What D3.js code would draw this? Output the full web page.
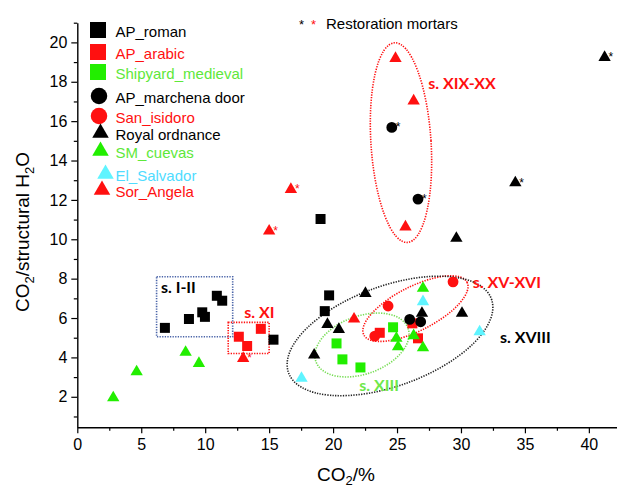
<!DOCTYPE html>
<html>
<head>
<meta charset="utf-8">
<script src="https://cdn.jsdelivr.net/npm/d3@7"></script>
<style>
 body { margin: 0; background: #fff; }
 svg text { font-family: "Liberation Sans", Arial, Helvetica, sans-serif; }
</style>
</head>
<body>
<div id="chart"></div>
<script>
/* CO2 / structural H2O against CO2 % for historic mortars.
 * Every point : [CO2 %, CO2/structural H2O, restoration mortar (1) or not (0)] */

var apRoman    = [[6.85,5.50,0],[8.73,5.95,0],[9.77,6.29,0],[9.98,6.06,0],[10.91,7.13,0],[11.33,6.88,0],
                  [15.34,4.90,0],[19.02,11.03,0],[19.69,7.15,0],[19.35,6.35,0]];
var apArabic   = [[12.63,5.05,0],[13.28,4.58,0],[14.35,5.45,0],[23.65,5.25,0],[26.20,5.73,0],[26.64,4.97,0]];
var shipyard   = [[24.69,5.53,0],[20.27,4.71,0],[20.73,3.90,0],[22.14,3.49,0]];
var marchena   = [[24.59,15.68,1],[26.64,12.04,1],[25.99,5.93,0],[26.85,5.81,0]];
var sanIsidoro = [[29.38,7.84,0],[24.30,6.61,0],[23.26,5.08,0]];
var royal      = [[41.23,19.24,1],[34.25,12.87,1],[29.64,10.05,0],[22.53,7.25,0],[26.95,6.24,0],
                  [30.08,6.24,0],[19.56,5.68,0],[20.45,5.42,0],[18.52,4.12,0]];
var smCuevas   = [[2.81,1.95,0],[4.64,3.27,0],[8.47,4.26,0],[9.51,3.70,0],[27.03,7.51,0],
                  [24.95,4.97,0],[25.08,4.54,0],[26.30,5.10,0],[27.03,4.49,0]];
var elSalvador = [[17.53,2.94,0],[27.03,6.83,0],[31.46,5.30,0]];
var sorAngela  = [[24.88,19.19,0],[26.30,17.03,0],[16.70,12.53,1],[15.00,10.42,1],[12.97,3.95,1],
                  [25.66,10.63,0],[21.64,5.95,0]];

var seriesNames  = ['AP_roman','AP_arabic','Shipyard_medieval','AP_marchena door','San_isidoro',
                    'Royal ordnance','SM_cuevas','El_Salvador','Sor_Angela'];
var seriesValues = [apRoman, apArabic, shipyard, marchena, sanIsidoro, royal, smCuevas, elSalvador, sorAngela];

// tick labels
var xTicks = [0,5,10,15,20,25,30,35,40];
var yTicks = [2,4,6,8,10,12,14,16,18,20];

// grouping annotations (centre in data units, half axes in x-units / y-units, angle in degrees)
var ellipseLabels = ['s. XIX-XX','s. XV-XVI','s. XVIII','s. XIII'];
var ellipseShapes = [[25.31,14.91,2.35,5.08,-3.7],[26.44,6.48,4.53,1.12,-27],
                     [24.45,5.09,8.44,2.54,-20],[22.26,4.63,3.83,1.47,-20]];
var boxLabels  = ['s. I-II','s. XI'];
var boxShapes  = [[6.2,5.05,12.15,8.1],[11.8,4.2,15.0,5.78]];
// where each group name is written [x, y] (data units)
var labelPos = {'s. XIX-XX':[27.44,17.63],'s. XV-XVI':[30.92,7.51],'s. XVIII':[33.05,4.72],
                's. XIII':[22.05,2.31],'s. XI':[13.06,5.99],'s. I-II':[6.54,7.27]};

// ---- graphical parameters ----
var graphicAtt = {};
graphicAtt.width = 617;
graphicAtt.height = 490;
graphicAtt.red = '#ff1010';
graphicAtt.green = '#22ee00';
graphicAtt.cyan = '#5ff4ff';

// symbol, fill and legend text colour for each series
var seriesStyle = [
 {sym: d3.symbolSquare,   fill: '#000',            text: '#000'},
 {sym: d3.symbolSquare,   fill: graphicAtt.red,    text: graphicAtt.red},
 {sym: d3.symbolSquare,   fill: graphicAtt.green,  text: '#5ee83a'},
 {sym: d3.symbolCircle,   fill: '#000',            text: '#000'},
 {sym: d3.symbolCircle,   fill: graphicAtt.red,    text: graphicAtt.red},
 {sym: d3.symbolTriangle, fill: '#000',            text: '#000'},
 {sym: d3.symbolTriangle, fill: graphicAtt.green,  text: '#5ee83a'},
 {sym: d3.symbolTriangle, fill: graphicAtt.cyan,   text: '#4fdcff'},
 {sym: d3.symbolTriangle, fill: graphicAtt.red,    text: graphicAtt.red}
];
// symbol areas in the plot and in the legend
var plotArea = function(s){ return s === d3.symbolSquare ? 100 : (s === d3.symbolCircle ? 92 : 66); };
var legendArea = function(s){ return s === d3.symbolSquare ? 256 : (s === d3.symbolCircle ? 214 : 118); };

var annColor = {'s. XIX-XX': graphicAtt.red, 's. XV-XVI': graphicAtt.red, 's. XVIII': '#222',
                's. XIII': '#77dd55', 's. XI': graphicAtt.red, 's. I-II': '#000'};

var svg = d3.select('#chart').append('svg')
 .attr('width', graphicAtt.width)
 .attr('height', graphicAtt.height);

var x = d3.scaleLinear().domain([0, 42.2]).range([77.3, 617]);
var y = d3.scaleLinear().domain([0.45, 21]).range([427.3, 22.7]);

// ---- axes ----
svg.append('g').attr('transform', 'translate(0,' + y.range()[0] + ')')
 .call(d3.axisBottom(x).tickValues(xTicks).tickSize(6).tickSizeOuter(0).tickPadding(5));
svg.append('g').attr('transform', 'translate(0,' + y.range()[0] + ')')
 .call(d3.axisBottom(x).tickValues(xTicks.map(function(v){ return v + 2.5; })).tickSize(3.5).tickFormat(''))
 .select('.domain').remove();

svg.append('g').attr('transform', 'translate(' + x.range()[0] + ',0)')
 .call(d3.axisLeft(y).tickValues(yTicks).tickSize(6).tickSizeOuter(0).tickPadding(4));
svg.append('g').attr('transform', 'translate(' + x.range()[0] + ',0)')
 .call(d3.axisLeft(y).tickValues(yTicks.map(function(v){ return v - 1; }).concat([21])).tickSize(3.5).tickFormat(''))
 .select('.domain').remove();

svg.selectAll('.domain').attr('stroke', '#000').attr('stroke-width', 1.4);
svg.selectAll('.tick line').attr('stroke', '#000').attr('stroke-width', 1.2);
svg.selectAll('.tick text').attr('font-size', 16).attr('fill', '#000')
 .style('font-family', '"Liberation Sans", Arial, sans-serif');

// axis titles
var xTitle = svg.append('text').attr('x', 346).attr('y', 481)
 .attr('text-anchor', 'middle').attr('font-size', 19);
xTitle.append('tspan').text('CO');
xTitle.append('tspan').text('2').attr('font-size', 13).attr('dy', 4);
xTitle.append('tspan').text('/%').attr('dy', -4);

var yTitle = svg.append('text').attr('transform', 'translate(29,232) rotate(-90)')
 .attr('text-anchor', 'middle').attr('font-size', 19);
yTitle.append('tspan').text('CO');
yTitle.append('tspan').text('2').attr('font-size', 13).attr('dy', 5);
yTitle.append('tspan').text('/structural H').attr('dy', -5);
yTitle.append('tspan').text('2').attr('font-size', 13).attr('dy', 5);
yTitle.append('tspan').text('O').attr('dy', -5);

// ---- grouping ellipses and boxes ----
var annLayer = svg.append('g').attr('class', 'annLayer');
ellipseShapes.forEach(function(e, i)
{
 annLayer.append('ellipse')
  .attr('cx', 0).attr('cy', 0)
  .attr('rx', e[2] * (x(1) - x(0)))
  .attr('ry', e[3] * (y(0) - y(1)))
  .attr('transform', 'translate(' + x(e[0]) + ',' + y(e[1]) + ') rotate(' + e[4] + ')')
  .attr('fill', 'none')
  .attr('stroke', annColor[ellipseLabels[i]])
  .attr('stroke-width', 1.6)
  .attr('stroke-dasharray', '1.3,1.3');
});
boxShapes.forEach(function(b, i)
{
 annLayer.append('rect')
  .attr('x', x(b[0])).attr('y', y(b[3]))
  .attr('width', x(b[2]) - x(b[0])).attr('height', y(b[1]) - y(b[3]))
  .attr('fill', 'none')
  .attr('stroke', i === 0 ? '#4a64a8' : graphicAtt.red)
  .attr('stroke-width', 1.6)
  .attr('stroke-dasharray', '1.3,1.3');
});
ellipseLabels.concat(boxLabels).forEach(function(name)
{
 annLayer.append('text')
  .attr('x', x(labelPos[name][0])).attr('y', y(labelPos[name][1]))
  .attr('fill', annColor[name] === '#222' ? '#000' : (name === 's. XIII' ? '#6ee84a' : annColor[name]))
  .attr('font-size', 16).attr('font-weight', 700)
  .style('font-family', 'Lato, "Open Sans", sans-serif')
  .text(name);
});

// ---- points ----
var nodeLayer = svg.append('g').attr('class', 'nodeLayer');
seriesValues.forEach(function(values, i)
{
 var st = seriesStyle[i];
 var g = nodeLayer.append('g');
 g.selectAll('path').data(values).enter().append('path')
  .attr('d', d3.symbol().type(st.sym).size(plotArea(st.sym)))
  .attr('transform', function(d){ return 'translate(' + x(d[0]) + ',' + y(d[1]) + ')'; })
  .attr('fill', st.fill);
 // restoration mortars get an asterisk
 g.selectAll('text').data(values.filter(function(d){ return d[2] === 1; })).enter().append('text')
  .attr('x', function(d){ return x(d[0]) + 4; })
  .attr('y', function(d){ return y(d[1]) + 4; })
  .attr('font-size', 12)
  .attr('fill', st.fill === '#000' ? '#000' : graphicAtt.red)
  .text('*');
});

// ---- legend ----
var legendY = [32, 54, 74, 98, 118, 135, 153, 176, 192];
var legendMarkX = [98, 98, 98, 99, 99, 100.5, 100.5, 105.5, 102];
var legend = svg.append('g').attr('class', 'legend');
seriesNames.forEach(function(name, i)
{
 var st = seriesStyle[i];
 legend.append('path')
  .attr('d', d3.symbol().type(st.sym).size(legendArea(st.sym)))
  .attr('transform', 'translate(' + legendMarkX[i] + ',' + (legendY[i] - 2) + ')')
  .attr('fill', st.fill);
 legend.append('text')
  .attr('x', 115.5).attr('y', legendY[i])
  .attr('dy', '0.36em')
  .attr('font-size', 15)
  .attr('fill', st.text)
  .text(name);
});

// restoration mortars key
legend.append('text').attr('x', 299).attr('y', 29).attr('font-size', 13).attr('fill', '#000').text('*');
legend.append('text').attr('x', 311).attr('y', 29).attr('font-size', 13).attr('fill', graphicAtt.red).text('*');
legend.append('text').attr('x', 326).attr('y', 29).attr('font-size', 15).attr('fill', '#000').text('Restoration mortars');
</script>
</body>
</html>
